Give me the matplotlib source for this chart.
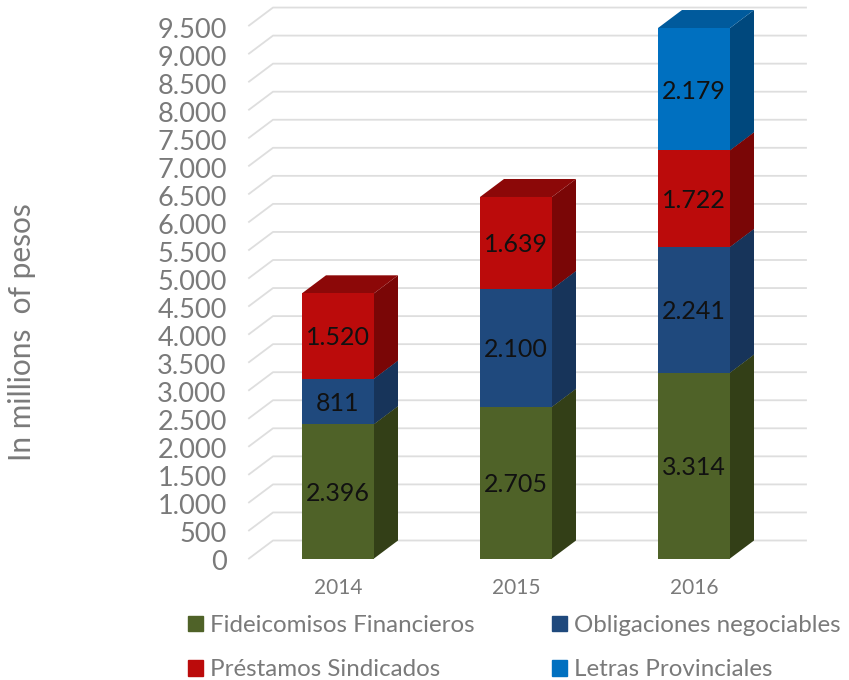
import matplotlib
matplotlib.use('Agg')
import matplotlib.pyplot as plt
from matplotlib.patches import Polygon, Patch
from matplotlib.ticker import FuncFormatter
from matplotlib.transforms import ScaledTranslation

plt.rcParams['font.family'] = ['Lato', 'DejaVu Sans']

W_PX = 849
H_PX = 680

years = ['2014', '2015', '2016']
fideicomisos = [2396, 2705, 3314]
obligaciones = [811, 2100, 2241]
prestamos = [1520, 1639, 1722]
letras = [0, 0, 2179]
y_ticks = list(range(0, 10000, 500))

# plot box in pixels, the chart is a fake 3D one so depth is an offset
LEFT = 249
RIGHT = 806
BASE = 558.5
PX_PER_UNIT = 0.0561
DEPTH_X_PX = 24
DEPTH_Y_PX = 18
STEP_PX = 178
BAR_PX = 72

TEXT_GREY = '#7a7a7a'
GRID = '#dedede'

# name, values, front, side, top
series = [
    ('Fideicomisos Financieros', fideicomisos, '#4f6228', '#333f17', '#3f4e1f'),
    ('Obligaciones negociables', obligaciones, '#1f497d', '#17345a', '#193a63'),
    ('Préstamos Sindicados', prestamos, '#bb0b0b', '#7a0606', '#8c0808'),
    ('Letras Provinciales', letras, '#0070c0', '#00487d', '#005a9c'),
]


def fmt(v, pos=None):
    return '{:,}'.format(int(v)).replace(',', '.')


fig = plt.figure(figsize=(W_PX / 100, H_PX / 100), dpi=100)
top_value = y_ticks[-1] + DEPTH_Y_PX / PX_PER_UNIT
ax = fig.add_axes([LEFT / W_PX,
                   1 - BASE / H_PX,
                   (RIGHT - LEFT) / W_PX,
                   top_value * PX_PER_UNIT / H_PX])
ax.set_xlim((LEFT - 338) / STEP_PX, (RIGHT - 338) / STEP_PX)
ax.set_ylim(0, top_value)

dx = DEPTH_X_PX / STEP_PX
dy = DEPTH_Y_PX / PX_PER_UNIT
width = BAR_PX / STEP_PX
x0, x1 = ax.get_xlim()

for t in y_ticks:
    ax.plot([x0, x0 + dx, x1], [t, t + dy, t + dy], color=GRID, lw=1.3,
            zorder=1, clip_on=False)

for i, year in enumerate(years):
    bottom = 0
    for name, values, front, side, top in series:
        v = values[i]
        if v == 0:
            continue
        left = i - width / 2
        right = i + width / 2
        ax.bar(i, v, width, bottom=bottom, color=front, zorder=3)
        ax.add_patch(Polygon([(right, bottom), (right + dx, bottom + dy),
                              (right + dx, bottom + v + dy), (right, bottom + v)],
                             facecolor=side, edgecolor='none', zorder=2))
        # only the last segment of a stack shows its top face
        ax.add_patch(Polygon([(left, bottom + v), (left + dx, bottom + v + dy),
                              (right + dx, bottom + v + dy), (right, bottom + v)],
                             facecolor=top, edgecolor='none', zorder=2))
        ax.annotate(fmt(v), (i, bottom + v / 2), xytext=(0, -2), textcoords='offset pixels',
                    ha='center', va='center', fontsize=18, color='#111111', zorder=5)
        bottom += v

ax.set_yticks(y_ticks)
ax.yaxis.set_major_formatter(FuncFormatter(fmt))
ax.set_xticks(range(len(years)))
ax.set_xticklabels(years)
ax.tick_params(axis='y', length=0, pad=16, labelsize=19.5, labelcolor=TEXT_GREY)
ax.tick_params(axis='x', length=0, pad=14, labelsize=15, labelcolor=TEXT_GREY)
# tick labels sit a bit under their gridline start
for lab in ax.get_yticklabels():
    lab.set_transform(lab.get_transform() + ScaledTranslation(0, -2 / 100, fig.dpi_scale_trans))
for s in ax.spines.values():
    s.set_visible(False)
ax.patch.set_alpha(0)

fig.text(22 / W_PX, 1 - 332 / H_PX, 'In millions  of pesos', rotation=90,
         ha='center', va='center', fontsize=21.5, color=TEXT_GREY)

handles = [Patch(color=series[k][2], label=series[k][0]) for k in (0, 2, 1, 3)]
leg = fig.legend(handles=handles, ncols=2, loc='upper left',
                 bbox_to_anchor=(188 / W_PX, 1 - 615 / H_PX), frameon=False,
                 fontsize=17.4, labelcolor=TEXT_GREY, handlelength=0.62,
                 handleheight=0.62, handletextpad=0.3, columnspacing=3.2,
                 labelspacing=0.96, borderpad=0, borderaxespad=0)

fig.savefig('out.png', dpi=100)
